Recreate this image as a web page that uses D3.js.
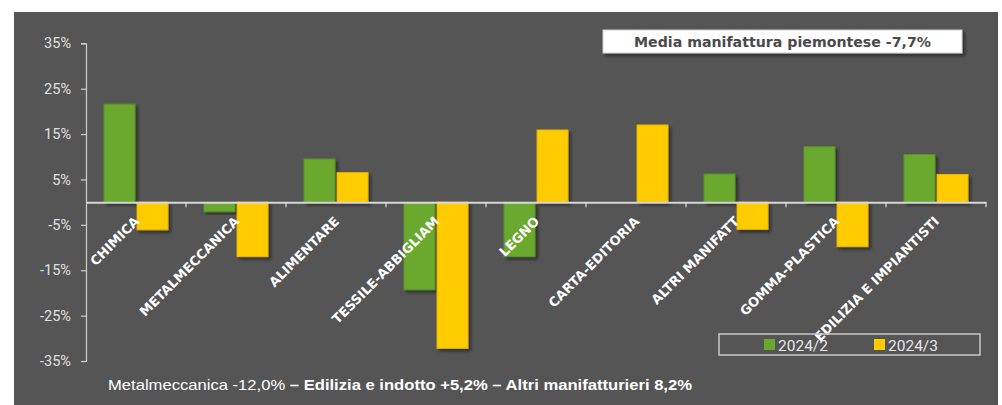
<!DOCTYPE html>
<html>
<head>
<meta charset="utf-8">
<script src="https://cdn.jsdelivr.net/npm/d3@7/dist/d3.min.js"></script>
<style>
  html, body { margin: 0; padding: 0; background: #fff; }
  svg { display: block; }
</style>
</head>
<body>
<svg id="chart" width="1002" height="405"></svg>
<script>
// Sectors and quarterly changes (%)
const categories = ["CHIMICA", "METALMECCANICA", "ALIMENTARE", "TESSILE-ABBIGLIAM", "LEGNO",
                    "CARTA-EDITORIA", "ALTRI MANIFATT", "GOMMA-PLASTICA", "EDILIZIA E IMPIANTISTI"];
const seriesNames = ["2024/2", "2024/3"];
const values2024q2 = [21.6, -2.1, 9.5, -19.3, -12.0, null, 6.2, 12.2, 10.5];
const values2024q3 = [-6.1, -12.0, 6.5, -32.2, 15.9, 17.0, -6.0, -9.8, 6.1];
const yTicks = [35, 25, 15, 5, -5, -15, -25, -35];
const boxText = "Media manifattura piemontese -7,7%";
const noteRegular = "Metalmeccanica -12,0%";
const noteBold = " \u2013  Edilizia e indotto +5,2%  \u2013  Altri manifatturieri 8,2%";

const colors = { "2024/2": "#6aa82e", "2024/3": "#ffcc00" };
const strokes = { "2024/2": "#5b9428", "2024/3": "#e8b800" };

const svg = d3.select("#chart");

// drop shadow used by bars and the info box
const defs = svg.append("defs");
const f = defs.append("filter").attr("id", "shadow")
  .attr("x", "-20%").attr("y", "-20%").attr("width", "150%").attr("height", "150%");
f.append("feDropShadow").attr("dx", 2.5).attr("dy", 2.5).attr("stdDeviation", 1.5)
  .attr("flood-color", "#000").attr("flood-opacity", 0.45);

// dark panel
svg.append("rect").attr("x", 14).attr("y", 12).attr("width", 984).attr("height", 400)
  .attr("fill", "#555555");

const y = d3.scaleLinear().domain([-35, 35]).range([361, 43.3]);
const x0 = d3.scaleBand().domain(categories).range([86, 986]).padding(0);
const x1 = d3.scaleBand().domain(seriesNames).range([18, 82]).paddingInner(0.0625);

const rows = categories.map((c, i) => ({
  cat: c,
  vals: [
    { s: "2024/2", v: values2024q2[i] },
    { s: "2024/3", v: values2024q3[i] }
  ]
}));

// bars
const groups = svg.append("g").selectAll("g").data(rows).join("g")
  .attr("transform", d => `translate(${x0(d.cat)},0)`);
groups.selectAll("rect").data(d => d.vals.filter(e => e.v !== null)).join("rect")
  .attr("x", d => x1(d.s))
  .attr("width", x1.bandwidth())
  .attr("y", d => y(Math.max(0, d.v)))
  .attr("height", d => Math.abs(y(d.v) - y(0)))
  .attr("fill", d => colors[d.s])
  .attr("stroke", d => strokes[d.s])
  .attr("stroke-width", 1)
  .attr("filter", "url(#shadow)");

// vertical axis
const yAxis = d3.axisLeft(y).tickValues(yTicks).tickSize(5).tickPadding(10)
  .tickFormat(d => d + "%");
const ya = svg.append("g").attr("transform", "translate(86,0)").call(yAxis);
ya.select(".domain").attr("stroke", "#d0d0d0").attr("stroke-width", 1.2);
ya.selectAll(".tick line").attr("stroke", "#d0d0d0").attr("stroke-width", 1.2);
ya.selectAll(".tick text").attr("fill", "#e0e0e0")
  .style("font-family", "Roboto, 'Open Sans', sans-serif").style("font-size", "14.5px");

// zero baseline with category separators
const zeroY = y(0);
const xAxis = d3.axisBottom(x0).tickSize(0).tickFormat("");
const xa = svg.append("g").attr("transform", `translate(0,${zeroY})`).call(xAxis);
xa.select(".domain").attr("stroke", "#d8d8d8").attr("stroke-width", 2);
const bounds = categories.map(c => x0(c) + x0.bandwidth());
svg.append("g").selectAll("line").data(bounds).join("line")
  .attr("x1", d => d).attr("x2", d => d)
  .attr("y1", zeroY).attr("y2", zeroY + 5)
  .attr("stroke", "#d8d8d8").attr("stroke-width", 1.2);

// rotated category labels
svg.append("g").selectAll("text").data(categories).join("text")
  .attr("transform", d => `translate(${x0(d) + x0.bandwidth() / 2 + 4},${zeroY + 20}) rotate(-45)`)
  .attr("text-anchor", "end")
  .attr("fill", "#ffffff")
  .style("font-family", "'DejaVu Sans', sans-serif")
  .style("font-weight", "bold")
  .style("font-size", "13px")
  .text(d => d);

// info box
svg.append("rect").attr("x", 603).attr("y", 30).attr("width", 359).attr("height", 23)
  .attr("fill", "#ffffff").attr("stroke", "#cfcfcf").attr("stroke-width", 1)
  .attr("filter", "url(#shadow)");
svg.append("text").attr("x", 782.5).attr("y", 47)
  .attr("text-anchor", "middle").attr("fill", "#4a4a4a")
  .style("font-family", "'DejaVu Sans', sans-serif").style("font-weight", "bold")
  .style("font-size", "14px")
  .attr("textLength", 297).attr("lengthAdjust", "spacingAndGlyphs")
  .text(boxText);

// legend
const leg = svg.append("g");
leg.append("rect").attr("x", 719).attr("y", 334).attr("width", 261).attr("height", 21)
  .attr("fill", "none").attr("stroke", "#c8c8c8").attr("stroke-width", 1.5);
const legX = [764, 874];
seriesNames.forEach((s, i) => {
  leg.append("rect").attr("x", legX[i]).attr("y", 339).attr("width", 11).attr("height", 11)
    .attr("fill", colors[s]);
  leg.append("text").attr("x", legX[i] + 14).attr("y", 350.5)
    .attr("fill", "#e6e6e6")
    .style("font-family", "Roboto, sans-serif").style("font-size", "15.5px")
    .text(s);
});

// footnote
const note = svg.append("text").attr("x", 108).attr("y", 389.5)
  .attr("fill", "#ffffff")
  .style("font-family", "'Liberation Sans Narrow', 'Liberation Sans', sans-serif")
  .style("font-size", "14.5px")
  .attr("textLength", 584).attr("lengthAdjust", "spacingAndGlyphs");
note.append("tspan").text(noteRegular);
note.append("tspan").style("font-weight", "bold").text(noteBold);
</script>
</body>
</html>
